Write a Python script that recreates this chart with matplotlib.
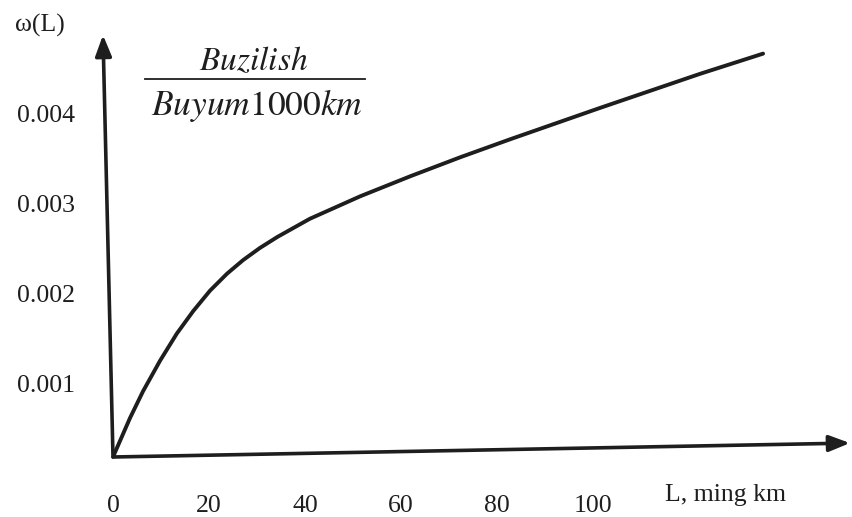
import matplotlib
matplotlib.use("Agg")
import matplotlib.pyplot as plt
from matplotlib.lines import Line2D
from matplotlib.transforms import ScaledTranslation

plt.rcParams['font.family'] = ['Liberation Serif', 'DejaVu Serif']
plt.rcParams['mathtext.fontset'] = 'stix'

# L, ming km  vs  omega(L)
L = [0, 3.54, 6.25, 9.8, 13.3, 16.7, 20.2, 23.75, 27.1, 30.6, 34.2, 41.0,
     51.5, 61.9, 72.3, 82.7, 101.5, 122.3, 135.4]
omega = [0, 0.000433, 0.00073, 0.00107, 0.001372, 0.001621, 0.001848, 0.002037,
         0.002188, 0.002323, 0.002444, 0.002647, 0.002897, 0.003119, 0.00333,
         0.00353, 0.00388, 0.004258, 0.004482]

x_ticks = [0, 20, 40, 60, 80, 100]
y_ticks = [0.001, 0.002, 0.003, 0.004]
y_tick_labels = ['0.001', '0.002', '0.003', '0.004']

ink = '#1e1e1e'

fig = plt.figure(figsize=(8.52, 5.17), dpi=100)
ax = fig.add_axes([113/852, 60/517, 737/852, 422/517])
ax.set_xlim(0, 153.5)
ax.set_ylim(0, 0.004689)
for s in ax.spines.values():
    s.set_visible(False)

ax.plot(L, omega, color=ink, lw=2.8, solid_capstyle='round', solid_joinstyle='round')

# arrow axes (the scan is a little rotated)
arrow = dict(arrowstyle='-|>,head_length=0.9,head_width=0.35', color=ink, lw=2.6,
             mutation_scale=14, shrinkA=0, shrinkB=0)
ax.annotate('', xy=(1.0, 0.033), xytext=(0, 0), xycoords='axes fraction',
            arrowprops=arrow, annotation_clip=False)
ax.annotate('', xy=(-0.0136, 1.0), xytext=(0, 0), xycoords='axes fraction',
            arrowprops=arrow, annotation_clip=False)

ax.set_xticks(x_ticks)
ax.set_xticklabels([str(v) for v in x_ticks])
ax.set_yticks(y_ticks)
ax.set_yticklabels(y_tick_labels)
ax.tick_params(axis='x', length=0, pad=27, labelsize=18.5, labelcolor=ink)
ax.tick_params(axis='y', length=0, pad=27, labelsize=18.5, labelcolor=ink)
# labels in the picture sit a bit below their true levels
shift = ScaledTranslation(0, -0.16, fig.dpi_scale_trans)
for lab in ax.get_yticklabels():
    lab.set_transform(lab.get_transform() + shift)

ax.text(-0.099, 1.022, 'ω(L)', transform=ax.transAxes,
        ha='center', va='center', fontsize=18.5, color=ink)
ax.text(0.749, -0.09, 'L, ming km', transform=ax.transAxes,
        ha='left', va='center', fontsize=18.5, color=ink)

# fraction "Buzilish / Buyum1000km"
fig.text(254/852, 1 - 62/517, r'$Buzilish$', ha='center', va='center',
         fontsize=24, color=ink)
fig.add_artist(Line2D([145/852, 365/852], [1 - 79/517, 1 - 79/517],
                      color=ink, lw=1.3))
fig.text(257/852, 1 - 105/517, r'$Buyum1000km$', ha='center', va='center',
         fontsize=25.5, color=ink)

fig.savefig('out.png', dpi=100, facecolor='white')
